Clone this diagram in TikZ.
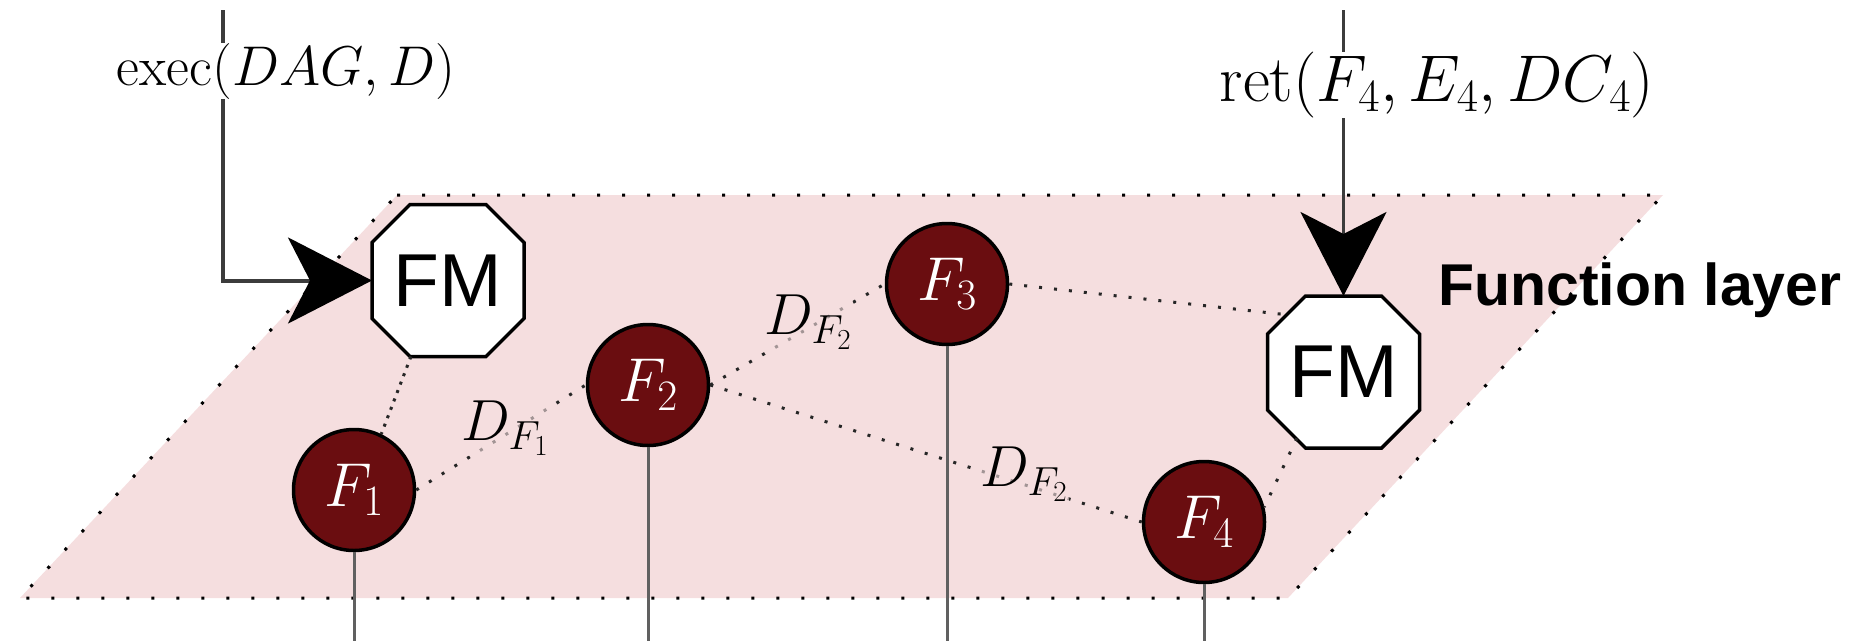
\RequirePackage{fix-cm}
\documentclass[tikz,border=0pt]{standalone}
\usepackage{fontspec}
\newfontfamily\arialf{Liberation Sans}
\usetikzlibrary{arrows.meta}
\definecolor{layerpink}{RGB}{245,222,223}
\definecolor{fred}{RGB}{106,13,16}
\definecolor{stemgray}{RGB}{96,96,96}
\definecolor{linedark}{RGB}{60,60,60}
\begin{document}
\begin{tikzpicture}[x=1pt,y=-1pt,
  oct/.style={draw=black, line width=3.5pt, fill=white, line join=miter},
  fmnode/.style={rectangle, minimum width=152pt, minimum height=152pt,
    inner sep=0pt, outer sep=0pt, font=\arialf\fontsize{75}{80}\selectfont},
  fnode/.style={circle, draw=black, line width=3.5pt, fill=fred, minimum size=121pt,
    inner sep=0pt, text=white, font=\fontsize{62}{68}\selectfont},
  dep/.style={draw=black!85, line width=3pt, dash pattern=on 3pt off 12pt},
  stem/.style={draw=stemgray, line width=3pt},
  call/.style={draw=linedark, line width=4pt, -{Stealth[length=84pt,width=86pt,inset=22pt,color=black]}},
  mlab/.style={font=\fontsize{56}{62}\selectfont, inner sep=0pt, fill=white},
  dlab/.style={font=\fontsize{58}{64}\selectfont, inner sep=1pt, fill=layerpink, fill opacity=0.6, text opacity=1},
]
\useasboundingbox (0,0) rectangle (1852,640);
% layer
\draw[fill=layerpink, draw=black, line width=3pt, dash pattern=on 3pt off 22pt]
  (397,195) -- (1663,195) -- (1288,598) -- (20,598) -- cycle;
\node[font=\arialf\bfseries\fontsize{59}{64}\selectfont, anchor=base west, inner sep=0pt] (fl) at (1438,305) {Function layer};
% function managers (octagon outline, node in front)
\draw[oct] (372,242.5) -- (410,204.5) -- (486,204.5) -- (524,242.5) -- (524,318.5)
  -- (486,356.5) -- (410,356.5) -- (372,318.5) -- cycle
  (448,280.5) node[fmnode] (FM1) {FM};
\draw[oct] (1267.5,334) -- (1305.5,296) -- (1381.5,296) -- (1419.5,334) -- (1419.5,410)
  -- (1381.5,448) -- (1305.5,448) -- (1267.5,410) -- cycle
  (1343.5,372) node[fmnode] (FM2) {FM};
% functions
\node[fnode] (F1) at (354,490) {$F_1$};
\node[fnode] (F2) at (648,385) {$F_2$};
\node[fnode] (F3) at (947,284) {$F_3$};
\node[fnode] (F4) at (1204,522) {$F_4$};
% stems
\coordinate (s1) at (354,645);
\coordinate (s2) at (648,645);
\coordinate (s3) at (947,645);
\coordinate (s4) at (1204,645);
\draw[stem] (F1.south) -- (s1);
\draw[stem] (F2.south) -- (s2);
\draw[stem] (F3.south) -- (s3);
\draw[stem] (F4.south) -- (s4);
% dependencies
\draw[dep, dash pattern=on 3pt off 6pt] (FM1.244) -- (F1.64);
\draw[dep] (F1.east) -- (F2.west);
\draw[dep] (F2.east) -- (F3.west);
\draw[dep] (F2.east) -- (F4.west);
\draw[dep, shorten >=-18.7pt] (F3.east) -- (FM2.142);
\draw[dep, shorten <=-10.8pt] (FM2.236) -- (F4.14);
\node[dlab] (d1) at (505,428) {$D_{F_1}$};
\node[dlab] (d2) at (808,322) {$D_{F_2}$};
\node[dlab] (d3) at (1024,474) {$D_{F_2}$};
% calls
\coordinate (execTop) at (223,10);
\coordinate (retTop) at (1343.5,10);
\draw[call] (execTop) |- (FM1.west);
\draw[call, line width=3.5pt] (retTop) -- (FM2.north);
\node[mlab] (execL) at (286,71) {$\mathrm{exec}(DAG, D)$};
\node[mlab, font=\fontsize{66}{72}\selectfont] (retL) at (1437,85) {$\mathrm{ret}(F_4, E_4, DC_4)$};
\end{tikzpicture}
\end{document}
